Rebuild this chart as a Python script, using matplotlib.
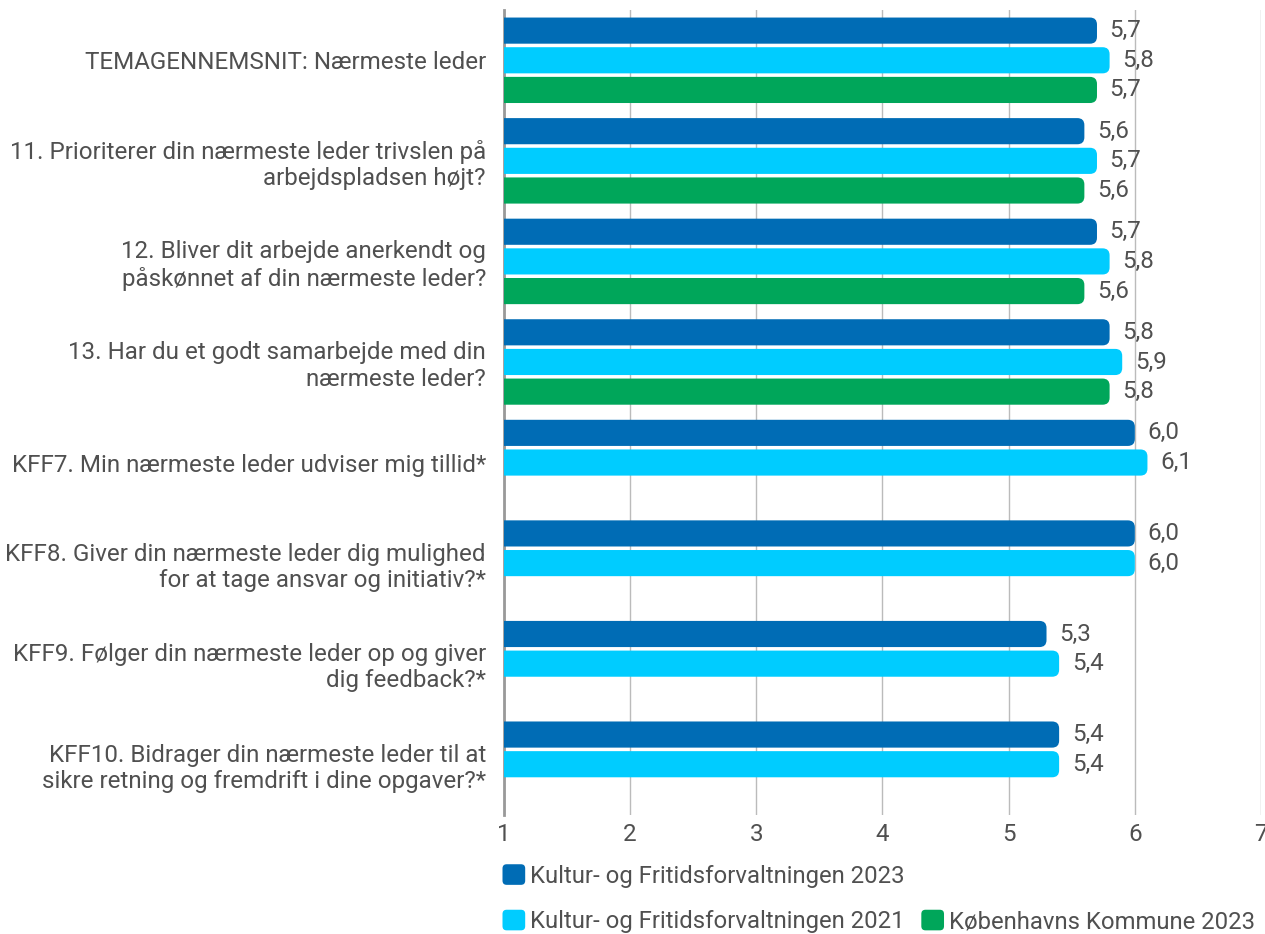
import matplotlib.pyplot as plt
from matplotlib.patches import FancyBboxPatch, Patch
from matplotlib.legend_handler import HandlerPatch

plt.rcParams['font.family'] = ['Roboto', 'DejaVu Sans']

categories = [
    "TEMAGENNEMSNIT: Nærmeste leder",
    "11. Prioriterer din nærmeste leder trivslen på\narbejdspladsen højt?",
    "12. Bliver dit arbejde anerkendt og\npåskønnet af din nærmeste leder?",
    "13. Har du et godt samarbejde med din\nnærmeste leder?",
    "KFF7. Min nærmeste leder udviser mig tillid*",
    "KFF8. Giver din nærmeste leder dig mulighed\nfor at tage ansvar og initiativ?*",
    "KFF9. Følger din nærmeste leder op og giver\ndig feedback?*",
    "KFF10. Bidrager din nærmeste leder til at\nsikre retning og fremdrift i dine opgaver?*",
]
kff_2023 = [5.7, 5.6, 5.7, 5.8, 6.0, 6.0, 5.3, 5.4]
kff_2021 = [5.8, 5.7, 5.8, 5.9, 6.1, 6.0, 5.4, 5.4]
kk_2023 = [5.7, 5.6, 5.6, 5.8, None, None, None, None]

series_names = ["Kultur- og Fritidsforvaltningen 2023",
                "Kultur- og Fritidsforvaltningen 2021",
                "Københavns Kommune 2023"]
colors = ["#006CB5", "#00CCFF", "#00A65A"]
text_col = "#505050"
fs = 17.4
leg_fs = 17.2


class RoundSquare(HandlerPatch):
    # legend swatches with slightly rounded corners
    def create_artists(self, legend, orig_handle, xdescent, ydescent,
                       width, height, fontsize, trans):
        p = FancyBboxPatch((-xdescent, -ydescent), width, height,
                           boxstyle="round,pad=0,rounding_size=3",
                           fc=orig_handle.get_facecolor(), ec='none',
                           transform=trans)
        return [p]


fig = plt.figure(figsize=(12.65, 9.34), dpi=100)
ax = fig.add_axes([504 / 1265, 1 - 814.5 / 934, 757 / 1265, 804.5 / 934])

slot = 0.295
bar_h = 0.26
ax.set_xlim(1, 7)
ax.set_ylim(7.5, -0.5)

# rounded right end of bars (left end hidden behind the axis)
r = 7 / 126.2
aspect = (7 / 100.5) / r
for k, vals in enumerate([kff_2023, kff_2021, kk_2023]):
    for i, v in enumerate(vals):
        if v is None:
            continue
        y = i + (k - 1) * slot
        box = FancyBboxPatch((0.8, y - bar_h / 2), v - 0.8, bar_h,
                             boxstyle=f"round,pad=0,rounding_size={r}",
                             mutation_aspect=aspect, fc=colors[k], ec='none',
                             zorder=3)
        ax.add_patch(box)
        ax.text(v + 0.1, y, f"{v:.1f}".replace('.', ','), va='center',
                ha='left', fontsize=fs, color=text_col, zorder=4)

ax.set_yticks(range(len(categories)))
ax.set_yticklabels(categories, fontsize=fs, color=text_col, linespacing=1.18)
ax.tick_params(axis='y', length=0, pad=13)
ax.set_xticks(range(1, 8))
ax.tick_params(axis='x', length=0, pad=6, labelsize=fs, labelcolor=text_col)

ax.grid(axis='x', color='#bbbbbb', lw=1, zorder=0)
ax.set_axisbelow(True)
for s in ['top', 'right', 'bottom']:
    ax.spines[s].set_visible(False)
ax.spines['left'].set_color('#999999')
ax.spines['left'].set_linewidth(2)

handles = [Patch(fc=c, ec='none') for c in colors]
hmap = {Patch: RoundSquare()}
leg1 = fig.legend(handles[:1], series_names[:1], loc='center left',
                  bbox_to_anchor=(481 / 1265, 1 - 876 / 934), frameon=False,
                  fontsize=leg_fs, handlelength=0.95, handleheight=0.95,
                  handletextpad=0.2, labelcolor=text_col, handler_map=hmap)
leg2 = fig.legend(handles[1:], series_names[1:], loc='center left', ncol=2,
                  bbox_to_anchor=(481 / 1265, 1 - 921.5 / 934), frameon=False,
                  fontsize=leg_fs, handlelength=0.95, handleheight=0.95,
                  handletextpad=0.2, columnspacing=0.7, labelcolor=text_col,
                  handler_map=hmap)

fig.savefig('out.png', dpi=100)
